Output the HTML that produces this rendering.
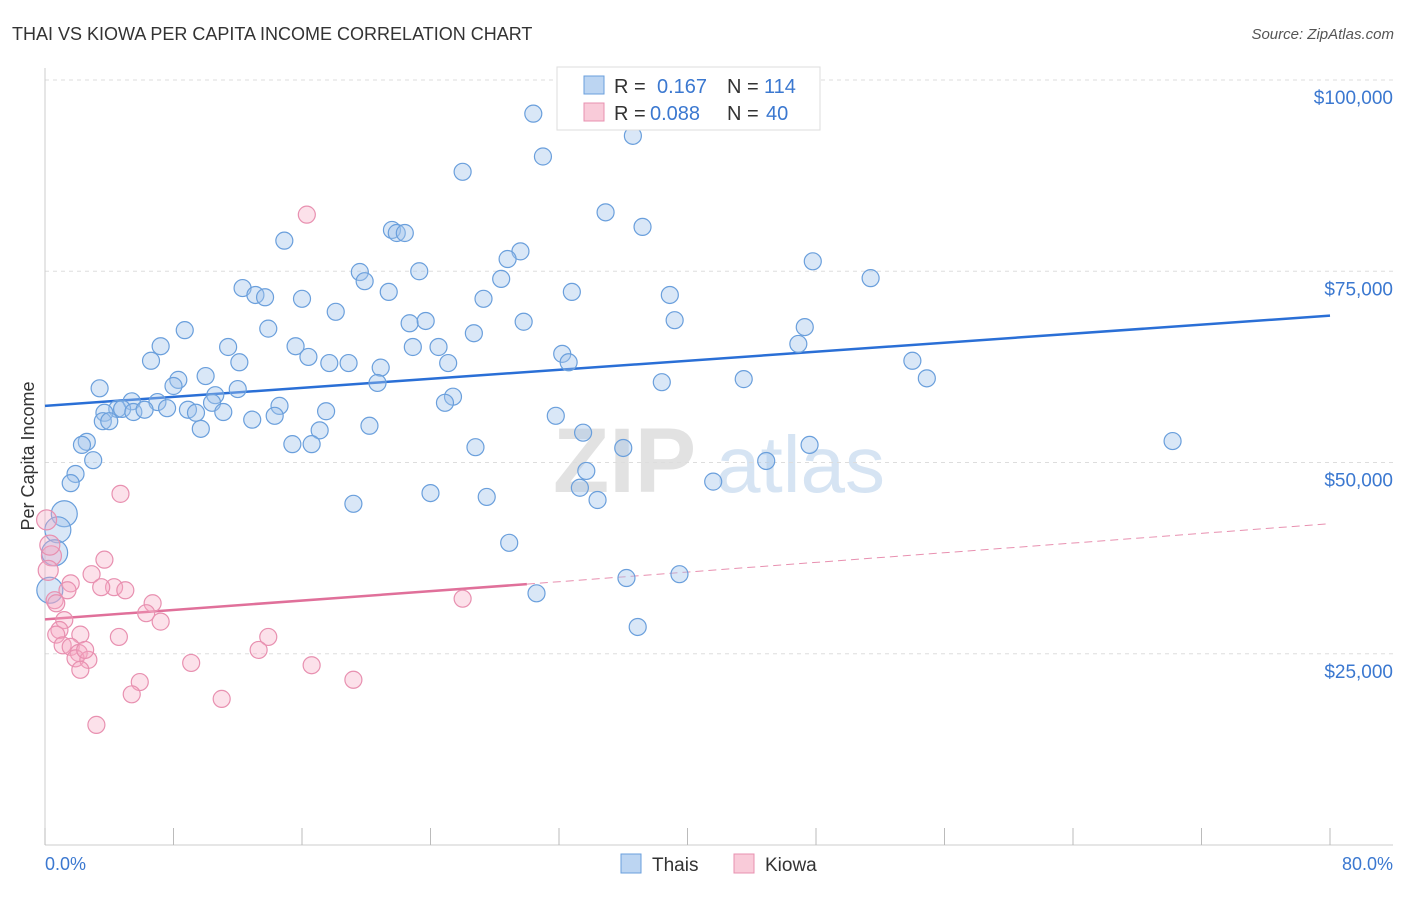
<!DOCTYPE html>
<html><head><meta charset="utf-8"><style>
body{margin:0;background:#fff;font-family:"Liberation Sans",sans-serif;}
svg text{font-family:"Liberation Sans",sans-serif;}
</style></head><body>
<svg width="1406" height="892" viewBox="0 0 1406 892" id="chart">
<text x="12" y="40" font-size="18" fill="#333">THAI VS KIOWA PER CAPITA INCOME CORRELATION CHART</text>
<text x="1394" y="39" font-size="15" fill="#555" text-anchor="end" font-style="italic">Source: ZipAtlas.com</text>
<g>
<text x="553" y="492" font-size="92" fill="#e2e2e2" font-family="Liberation Serif" font-weight="bold">ZIP</text>
<text x="716" y="492" font-size="80" fill="#d6e4f3">atlas</text>
</g>
<g id="grid"></g>
<g id="axes"></g>
<g id="trends"></g>
<g id="points"></g>
<g>
<rect x="557" y="67" width="263" height="63" fill="#fff" stroke="#ddd"/>
<rect x="584" y="76" width="20" height="18" fill="#bcd5f2" stroke="#6a9fdc"/>
<text x="614" y="93" font-size="20" fill="#333">R = </text><text x="657" y="93" font-size="20" fill="#3b78d0">0.167</text>
<text x="727" y="93" font-size="20" fill="#333">N = </text><text x="764" y="93" font-size="20" fill="#3b78d0">114</text>
<rect x="584" y="103" width="20" height="18" fill="#f9cbd9" stroke="#e890b0"/>
<text x="614" y="120" font-size="20" fill="#333">R = </text><text x="650" y="120" font-size="20" fill="#3b78d0">0.088</text>
<text x="727" y="120" font-size="20" fill="#333">N = </text><text x="766" y="120" font-size="20" fill="#3b78d0">40</text>
</g>
<g>
<rect x="621" y="854" width="20" height="19" fill="#bcd5f2" stroke="#6a9fdc"/>
<text x="652" y="871" font-size="19" fill="#333">Thais</text>
<rect x="734" y="854" width="20" height="19" fill="#f9cbd9" stroke="#e890b0"/>
<text x="765" y="871" font-size="19" fill="#333">Kiowa</text>
</g>
<text x="45" y="870" font-size="18" fill="#3b78d0">0.0%</text>
<text x="1393" y="870" font-size="18" fill="#3b78d0" text-anchor="end">80.0%</text>
<text transform="translate(34,456) rotate(-90)" font-size="18" fill="#333" text-anchor="middle">Per Capita Income</text>
</svg>
<script>
const yTicks=[25000,50000,75000,100000];
const yTickLabels=["$25,000","$50,000","$75,000","$100,000"];
const xTicks=[0,8,16,24,32,40,48,56,64,72,80];
const thaiX=[30.4,31.0,36.6,26.0,34.9,37.2,14.9,21.6,21.9,22.4,29.6,28.8,47.8,51.4,19.6,23.3,19.9,28.4,12.3,13.1,13.7,16.0,21.4,32.8,38.9,27.3,18.1,39.2,47.3,22.7,23.7,29.8,26.7,8.7,13.9,7.2,11.4,15.6,22.9,24.5,46.9,32.2,32.6,6.6,12.1,16.4,17.7,18.9,20.9,25.1,54.0,54.9,10.0,8.3,38.4,43.5,8.0,3.4,12.0,20.7,10.6,25.4,24.9,5.4,7.0,10.4,4.5,7.6,8.9,14.6,3.7,4.8,5.5,6.2,9.4,11.1,17.5,3.6,4.0,12.9,14.3,31.8,20.2,17.1,9.7,33.5,2.6,2.3,15.4,16.6,26.8,36.0,47.6,70.2,3.0,44.9,1.9,33.7,1.6,41.6,33.3,24.0,27.5,34.4,19.2,1.2,0.8,28.9,0.6,0.3,36.2,39.5,30.6,36.9];
const thaiY=[95.6,90.0,92.7,88.0,82.7,80.8,79.0,80.4,80.0,80.0,77.6,76.6,76.3,74.1,74.9,75.0,73.7,74.0,72.8,71.9,71.6,71.4,72.3,72.3,71.9,71.4,69.7,68.6,67.7,68.2,68.5,68.4,66.9,67.3,67.5,65.2,65.1,65.2,65.1,65.1,65.5,64.2,63.1,63.3,63.1,63.8,63.0,63.0,62.4,63.0,63.3,61.0,61.3,60.8,60.5,60.9,60.0,59.7,59.6,60.4,58.8,58.6,57.8,58.0,57.9,57.8,57.0,57.1,56.9,57.4,56.5,57.0,56.6,56.9,56.5,56.6,56.7,55.4,55.4,55.6,56.1,56.1,54.8,54.2,54.4,53.9,52.7,52.3,52.4,52.4,52.0,51.9,52.3,52.8,50.3,50.2,48.5,48.9,47.3,47.5,46.7,46.0,45.5,45.1,44.6,43.3,41.2,39.5,38.2,33.3,34.9,35.4,32.9,28.5];
const kiowaX=[16.3,4.7,0.1,0.4,3.7,2.9,1.6,1.4,4.3,5.0,3.5,0.6,6.7,26.0,0.7,6.3,7.2,1.2,0.9,0.7,2.2,4.6,13.9,13.3,1.1,1.6,2.1,1.9,2.7,2.2,9.1,16.6,19.2,5.9,5.4,11.0,3.2,0.3,0.2,2.5];
const kiowaY=[82.4,45.9,42.5,37.8,37.3,35.4,34.2,33.3,33.7,33.3,33.7,32.0,31.6,32.2,31.6,30.3,29.2,29.4,28.1,27.5,27.5,27.2,27.2,25.5,26.1,25.9,25.1,24.4,24.2,22.9,23.8,23.5,21.6,21.3,19.7,19.1,15.7,39.2,35.9,25.5];
const thaiTrend=[0,57.4,80,69.2];
const kiowaTrend=[0,29.5,30,34.1,80,42.0];
const NS="http://www.w3.org/2000/svg";
const X=v=>45+v/80*1285;
const Y=v=>845-v/100000*765;
function mk(tag,attrs,parent){const e=document.createElementNS(NS,tag);for(const k in attrs)e.setAttribute(k,attrs[k]);document.getElementById(parent).appendChild(e);return e;}
yTicks.forEach((t,i)=>{
 const g=mk('line',{x1:45,x2:1393,y1:Y(t),y2:Y(t),stroke:'#ddd','stroke-dasharray':'4,4'},'grid');
 
 
 const tx=mk('text',{x:1393,y:Y(t)+24,'font-size':19,fill:'#3b78d0','text-anchor':'end'},'grid');
 tx.textContent=yTickLabels[i];
 
 
});
const gl=mk('line',{x1:45,x2:1393,y1:Y(100000),y2:Y(100000),stroke:'#ddd','stroke-dasharray':'4,4'},'grid');
const ax=mk('line',{x1:45,x2:1393,y1:845,y2:845,stroke:'#ccc'},'axes');


const ay=mk('line',{x1:45,x2:45,y1:68,y2:845,stroke:'#ccc'},'axes');


xTicks.forEach(t=>{
 const l=mk('line',{x1:X(t),x2:X(t),y1:828,y2:845,stroke:'#bbb'},'axes');
 
 
});
thaiX.forEach((x,i)=>{
 const c=mk('circle',{cx:X(x),cy:Y(thaiY[i]*1000),r:x<1.5?13:8.5,fill:'rgba(160,195,235,0.4)',stroke:'#6a9fdc','stroke-width':1.2},'points');
 
 
});
kiowaX.forEach((x,i)=>{
 const c=mk('circle',{cx:X(x),cy:Y(kiowaY[i]*1000),r:x<0.5?10:8.5,fill:'rgba(245,170,195,0.35)',stroke:'#e890b0','stroke-width':1.2},'points');
 
 
});
const tl=mk('line',{x1:X(thaiTrend[0]),y1:Y(thaiTrend[1]*1000),x2:X(thaiTrend[2]),y2:Y(thaiTrend[3]*1000),stroke:'#2a6fd6','stroke-width':2.5},'trends');


const kl=mk('line',{x1:X(kiowaTrend[0]),y1:Y(kiowaTrend[1]*1000),x2:X(kiowaTrend[2]),y2:Y(kiowaTrend[3]*1000),stroke:'#e0709a','stroke-width':2.5},'trends');


const kd=mk('line',{x1:X(kiowaTrend[2]),y1:Y(kiowaTrend[3]*1000),x2:X(kiowaTrend[4]),y2:Y(kiowaTrend[5]*1000),stroke:'#e890b0','stroke-width':1,'stroke-dasharray':'8,5'},'trends');


</script>
</body></html>
